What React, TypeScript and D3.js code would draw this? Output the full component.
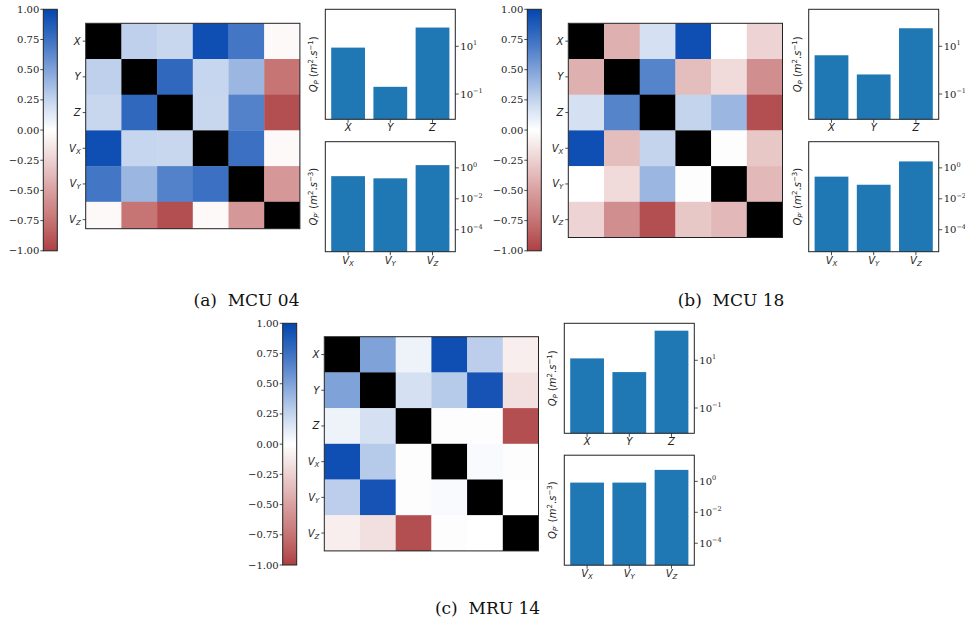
import React from "react";
import * as d3 from "d3";

// ---------- data ----------
const varNames = ["X", "Y", "Z", "V", "V", "V"];
const varSubs = ["", "", "", "X", "Y", "Z"];
const barLabelsPos = ["X", "Y", "Z"];
const barLabelsVel = ["X", "Y", "Z"];
const cbTicks = [1, 0.75, 0.5, 0.25, 0, -0.25, -0.5, -0.75, -1];

// null = diagonal (drawn black)
const corrMCU04 = [
  [null, 0.27, 0.23, 0.95, 0.72, -0.03],
  [0.27, null, 0.8, 0.24, 0.4, -0.75],
  [0.23, 0.8, null, 0.23, 0.66, -0.93],
  [0.95, 0.24, 0.23, null, 0.75, -0.03],
  [0.72, 0.4, 0.66, 0.75, null, -0.55],
  [-0.03, -0.75, -0.93, -0.03, -0.55, null],
];
const corrMCU18 = [
  [null, -0.42, 0.18, 0.95, 0.0, -0.24],
  [-0.42, null, 0.65, -0.35, -0.2, -0.6],
  [0.18, 0.65, null, 0.25, 0.4, -0.93],
  [0.95, -0.35, 0.25, null, 0.01, -0.3],
  [0.0, -0.2, 0.4, 0.01, null, -0.38],
  [-0.24, -0.6, -0.93, -0.3, -0.38, null],
];
const corrMRU14 = [
  [null, 0.5, 0.07, 0.95, 0.28, -0.09],
  [0.5, null, 0.18, 0.3, 0.92, -0.17],
  [0.07, 0.18, null, 0.01, -0.01, -0.93],
  [0.95, 0.3, 0.01, null, 0.03, -0.01],
  [0.28, 0.92, -0.01, 0.03, null, 0.0],
  [-0.09, -0.17, -0.93, -0.01, 0.0, null],
];

const qpMCU04 = [8.8, 0.2, 61];
const qvMCU04 = [0.29, 0.21, 1.5];
const qpMCU18 = [4.2, 0.66, 57];
const qvMCU18 = [0.27, 0.081, 2.6];
const qpMRU14 = [12, 3.2, 174];
const qvMRU14 = [0.83, 0.83, 5.5];

const posTickExps = [1, -1];
const velTickExps = [0, -2, -4];
const posDomain = [Math.pow(10, -2.06), Math.pow(10, 2.55)];
const velDomain = [Math.pow(10, -5.42), Math.pow(10, 1.69)];

const captions = ["(a)  MCU 04", "(b)  MCU 18", "(c)  MRU 14"];

// ---------- colormap ----------
const cmapColors = [
  "#ad4043", "#c67474", "#d9a0a0", "#ecd1d1", "#ffffff",
  "#c4d4ed", "#7fa2d9", "#3b70c2", "#0446ae",
];
const cmap = d3
  .scaleLinear<string>()
  .domain(d3.range(cmapColors.length).map((i) => -1 + (2 * i) / (cmapColors.length - 1)))
  .range(cmapColors)
  .interpolate(d3.interpolateRgb)
  .clamp(true);

const SERIF = "DejaVu Serif";
const SANS = "DejaVu Sans";
const INK = "#222";

function fmtCb(v: number) {
  const s = Math.abs(v).toFixed(2);
  return v < 0 ? "\u2212" + s : s;
}

function Colorbar({ x, y, w, h, id }: any) {
  const s = d3.scaleLinear().domain([-1, 1]).range([y + h, y]);
  const stops = d3.range(0, 1.0001, 0.05);
  return (
    <g>
      <defs>
        <linearGradient id={id} x1="0" y1="1" x2="0" y2="0">
          {stops.map((t, i) => (
            <stop key={i} offset={t} stopColor={cmap(-1 + 2 * t)} />
          ))}
        </linearGradient>
      </defs>
      <rect x={x} y={y} width={w} height={h} fill={`url(#${id})`} stroke={INK} strokeWidth={1} />
      {cbTicks.map((v, i) => (
        <g key={i}>
          <line x1={x - 3} x2={x} y1={s(v)} y2={s(v)} stroke={INK} strokeWidth={0.8} />
          <text x={x - 4} y={s(v)} dy="0.35em" textAnchor="end" fontFamily={SERIF} fontSize={10} fill={INK}>
            {fmtCb(v)}
          </text>
        </g>
      ))}
    </g>
  );
}

function Heatmap({ x, y, cell, clipH, data, id }: any) {
  const n = data.length;
  const band = d3.scaleBand<number>().domain(d3.range(n)).range([0, n * cell]);
  const H = clipH ?? n * cell;
  return (
    <g>
      <defs>
        <clipPath id={id}>
          <rect x={x} y={y} width={n * cell} height={H} />
        </clipPath>
      </defs>
      <g clipPath={`url(#${id})`}>
        {data.map((row: (number | null)[], r: number) =>
          row.map((v, c) => (
            <rect
              key={`${r}-${c}`}
              x={x + (band(c) as number)}
              y={y + (band(r) as number)}
              width={band.bandwidth() + 0.3}
              height={band.bandwidth() + 0.3}
              fill={v === null ? "#000" : cmap(v)}
            />
          ))
        )}
      </g>
      <rect x={x} y={y} width={n * cell} height={H} fill="none" stroke={INK} strokeWidth={1} />
      {varNames.map((nm, r) => {
        const cy = y + (band(r) as number) + band.bandwidth() / 2;
        return (
          <g key={r}>
            <line x1={x - 3} x2={x} y1={cy} y2={cy} stroke={INK} strokeWidth={0.8} />
            <text x={x - 5} y={cy} dy="0.35em" textAnchor="end" fontFamily={SANS} fontSize={10} fontStyle="italic" fill={INK}>
              {nm}
              {varSubs[r] ? (
                <tspan fontSize={7} dy={2}>
                  {varSubs[r]}
                </tspan>
              ) : null}
            </text>
          </g>
        );
      })}
    </g>
  );
}

function BarChart({ x, y, w, h, values, domain, tickExps, labels, vel, expLabel }: any) {
  const xs = d3.scaleLinear().domain([-0.54, 2.54]).range([x, x + w]);
  const ys = d3.scaleLog().domain(domain).range([y + h, y]);
  const bottom = y + h;
  return (
    <g>
      {values.map((v: number, i: number) => (
        <rect
          key={i}
          x={xs(i - 0.4)}
          width={xs(i + 0.4) - xs(i - 0.4)}
          y={ys(v)}
          height={bottom - ys(v)}
          fill="#1f77b4"
        />
      ))}
      <rect x={x} y={y} width={w} height={h} fill="none" stroke={INK} strokeWidth={1} />
      {labels.map((l: string, i: number) => (
        <g key={i}>
          <line x1={xs(i)} x2={xs(i)} y1={bottom} y2={bottom + 3.5} stroke={INK} strokeWidth={0.8} />
          <text x={xs(i)} y={bottom + 12} textAnchor="middle" fontFamily={SANS} fontSize={10} fontStyle="italic" fill={INK}>
            {vel ? "V" : l}
            {vel ? (
              <tspan fontSize={7} dy={2}>
                {l}
              </tspan>
            ) : null}
          </text>
        </g>
      ))}
      {tickExps.map((e: number, i: number) => {
        const ty = ys(Math.pow(10, e));
        return (
          <g key={i}>
            <line x1={x + w} x2={x + w + 3.5} y1={ty} y2={ty} stroke={INK} strokeWidth={0.8} />
            <text x={x + w + 5} y={ty + 3.5} fontFamily={SERIF} fontSize={10} fill={INK}>
              10
              <tspan fontSize={6.5} dy={-4.5}>
                {e < 0 ? "\u2212" + Math.abs(e) : String(e)}
              </tspan>
            </text>
          </g>
        );
      })}
      <text
        transform={`translate(${x - 8},${y + h / 2}) rotate(-90)`}
        textAnchor="middle"
        fontFamily={SANS}
        fontSize={10}
        fill={INK}
      >
        <tspan fontStyle="italic">Q</tspan>
        <tspan fontSize={7} dy={2} fontStyle="italic">
          {vel ? "P\u2032" : "P"}
        </tspan>
        <tspan dy={-2}> (</tspan>
        <tspan fontStyle="italic">m</tspan>
        <tspan fontSize={7} dy={-4}>
          2
        </tspan>
        <tspan dy={4}>.</tspan>
        <tspan fontStyle="italic">s</tspan>
        <tspan fontSize={7} dy={-4}>
          {"\u2212" + expLabel}
        </tspan>
        <tspan dy={4}>)</tspan>
      </text>
    </g>
  );
}

function Panel({ cb, hm, bx, by1, by2, corr, qp, qv, id, clipH }: any) {
  return (
    <g>
      <Colorbar x={cb.x} y={cb.y} w={14} h={cb.h} id={`cb-${id}`} />
      <Heatmap x={hm.x} y={hm.y} cell={35.7} clipH={clipH} data={corr} id={`hm-${id}`} />
      <BarChart x={bx} y={by1} w={130} h={110} values={qp} domain={posDomain} tickExps={posTickExps} labels={barLabelsPos} vel={false} expLabel="1" />
      <BarChart x={bx} y={by2} w={130} h={110} values={qv} domain={velDomain} tickExps={velTickExps} labels={barLabelsVel} vel={true} expLabel="3" />
    </g>
  );
}

export default function App() {
  return (
    <svg
      width={965}
      height={627}
      viewBox="0 0 965 627"
      style={{ position: "absolute", left: 0, top: 0, background: "#fff" }}
    >
      <rect x={0} y={0} width={965} height={627} fill="#fff" />
      <Panel
        id="a"
        cb={{ x: 43.3, y: 9.3, h: 241.5 }}
        hm={{ x: 85.7, y: 23.3 }}
        clipH={205.4}
        bx={325.3}
        by1={9.3}
        by2={141.7}
        corr={corrMCU04}
        qp={qpMCU04}
        qv={qvMCU04}
      />
      <Panel
        id="b"
        cb={{ x: 527.3, y: 9.3, h: 241.5 }}
        hm={{ x: 568.3, y: 23.3 }}
        bx={808.7}
        by1={9.3}
        by2={141.7}
        corr={corrMCU18}
        qp={qpMCU18}
        qv={qvMCU18}
      />
      <Panel
        id="c"
        cb={{ x: 282.7, y: 323.3, h: 241.7 }}
        hm={{ x: 324.3, y: 336.7 }}
        bx={564.3}
        by1={323.3}
        by2={455.2}
        corr={corrMRU14}
        qp={qpMRU14}
        qv={qvMRU14}
      />
      {[
        { cx: 246.5, cy: 305.5 },
        { cx: 731, cy: 305.5 },
        { cx: 487.5, cy: 614 },
      ].map((p, i) => (
        <text key={i} x={p.cx} y={p.cy} textAnchor="middle" fontFamily={SERIF} fontSize={17} fill="#111" style={{ whiteSpace: "pre" }}>
          {captions[i]}
        </text>
      ))}
    </svg>
  );
}
